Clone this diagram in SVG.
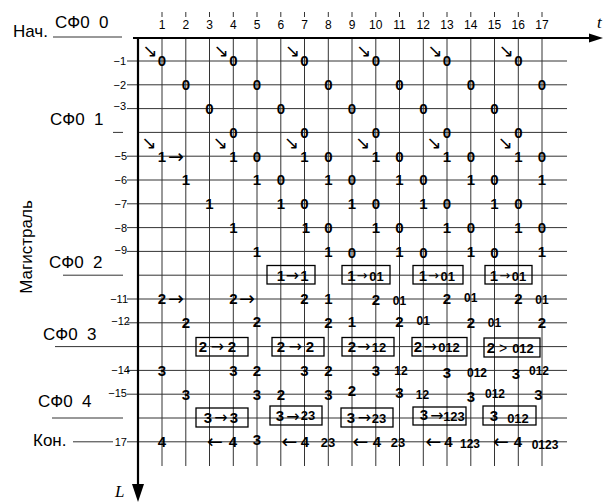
<svg xmlns="http://www.w3.org/2000/svg" width="603" height="502" viewBox="0 0 603 502">
<style>
.g{stroke:#333;stroke-width:1;fill:none}
.ax{stroke:#000;stroke-width:2.2;fill:none}
.bx{stroke:#000;stroke-width:1.3;fill:none}
text{font-family:"Liberation Sans",Arial,sans-serif;fill:#000}
.d{font-size:15px;font-weight:bold;text-anchor:middle}
.m{font-size:13px;font-weight:bold;text-anchor:middle}
.s{font-size:12px;font-weight:bold;text-anchor:middle}
.a{font-family:"DejaVu Sans",sans-serif;font-size:16px;text-anchor:middle}
.b{font-family:"DejaVu Sans",sans-serif;font-size:13px;text-anchor:middle}
.A{font-family:"DejaVu Sans",sans-serif;font-size:19px;text-anchor:middle}
.D{font-family:"DejaVu Sans",sans-serif;font-size:18px;text-anchor:middle}
.c{font-size:12px;text-anchor:middle}
.r{font-size:11px;text-anchor:end}
.L{font-size:17px}
</style>

<g id="grid">
<path class="g" d="M127 61H567M127 84.8H567M127 108.6H567M138 132.4H567M127 156.2H567M127 180H567M127 203.8H567M127 227.6H567M127 251.4H567M138 275.2H567M127 299H567M127 322.8H567M55 346.6H567M127 370.4H567M127 394.2H567M138 418H567M127 441.8H567"/>
<path class="g" d="M162 38V466M185.8 38V466M209.5 38V466M233.3 38V466M257 38V466M280.8 38V466M304.5 38V466M328.3 38V466M352 38V466M375.8 38V466M399.5 38V466M423.3 38V466M447 38V466M470.8 38V466M494.5 38V466M518.3 38V466M542 38V466"/>
<path class="g" d="M162 12V17M185.8 12V17M209.5 12V17M233.3 12V17M257 12V17M280.8 12V17M304.5 12V17M328.3 12V17M352 12V17M375.8 12V17M399.5 12V17M423.3 12V17M447 12V17M470.8 12V17M494.5 12V17M518.3 12V17M542 12V17"/>
<path class="g" d="M113 132.4H123M63 275.2H123M52 418H123M73 441.8H113M53 37H122"/>
</g>

<g id="axes">
<path class="ax" d="M133 38H592M138 37V486"/>
<polygon points="589,33.5 603,38 589,42.5" fill="#000"/>
<polygon points="132,484 144,484 138,502" fill="#000"/>
<text x="597" y="28" style="font-family:'Liberation Serif',serif;font-style:italic;font-size:17px">t</text>
<text x="115" y="497" style="font-family:'Liberation Serif',serif;font-style:italic;font-size:17px">L</text>
</g>

<g id="col-labels">
<text class="c" x="162" y="29">1</text><text class="c" x="185.8" y="29">2</text><text class="c" x="209.5" y="29">3</text><text class="c" x="233.3" y="29">4</text><text class="c" x="257" y="29">5</text><text class="c" x="280.8" y="29">6</text><text class="c" x="304.5" y="29">7</text><text class="c" x="328.3" y="29">8</text><text class="c" x="352" y="29">9</text><text class="c" x="375.8" y="29">10</text><text class="c" x="399.5" y="29">11</text><text class="c" x="423.3" y="29">12</text><text class="c" x="447" y="29">13</text><text class="c" x="470.8" y="29">14</text><text class="c" x="494.5" y="29">15</text><text class="c" x="518.3" y="29">16</text><text class="c" x="542" y="29">17</text>
</g>

<g id="row-labels">
<text class="r" x="126" y="65">−1</text>
<text class="r" x="126" y="88.8">−2</text>
<text class="r" x="126" y="110">−3</text>
<text class="r" x="127" y="160.2">−5</text>
<text class="r" x="127" y="184">−6</text>
<text class="r" x="127" y="207.8">−7</text>
<text class="r" x="127" y="231.6">−8</text>
<text class="r" x="127" y="253.5">−9</text>
<text class="r" x="128" y="303">−11</text>
<text class="r" x="130" y="325">−12</text>
<text class="r" x="130" y="374.4">−14</text>
<text class="r" x="127" y="396.5">−15</text>
<text class="r" x="127" y="445.8">17</text>
</g>

<g id="stage-labels">
<text x="13" y="37" class="L">Нач.</text>
<text x="55" y="28" class="L" xml:space="preserve">СФ0  0</text>
<text x="50" y="125" class="L" xml:space="preserve">СФ0  1</text>
<text x="49" y="268" class="L" xml:space="preserve">СФ0  2</text>
<text x="43" y="340" class="L" xml:space="preserve">СФ0  3</text>
<text x="38" y="407" class="L" xml:space="preserve">СФ0  4</text>
<text x="33" y="446" class="L">Кон.</text>
<text transform="translate(32 247) rotate(-90)" style="font-size:17px;text-anchor:middle">Магистраль</text>
</g>

<g id="cells">
<!-- row 1 -->
<text class="d" x="162" y="66.3">0</text><text class="d" x="233.3" y="66.3">0</text><text class="d" x="304.5" y="66.3">0</text><text class="d" x="375.8" y="66.3">0</text><text class="d" x="447" y="66.3">0</text><text class="d" x="518.3" y="66.3">0</text>
<text class="D" x="150" y="57">↘</text><text class="D" x="221.3" y="57">↘</text><text class="D" x="292.5" y="57">↘</text><text class="D" x="363.8" y="57">↘</text><text class="D" x="435" y="57">↘</text><text class="D" x="506.3" y="57">↘</text>
<!-- row 2 -->
<text class="d" x="185.8" y="90.1">0</text><text class="d" x="257" y="90.1">0</text><text class="d" x="328.3" y="90.1">0</text><text class="d" x="399.5" y="90.1">0</text><text class="d" x="470.8" y="90.1">0</text><text class="d" x="542" y="90.1">0</text>
<!-- row 3 -->
<text class="d" x="209.5" y="113.9">0</text><text class="d" x="280.8" y="113.9">0</text><text class="d" x="352" y="113.9">0</text><text class="d" x="423.3" y="113.9">0</text><text class="d" x="494.5" y="113.9">0</text>
<!-- row 4 -->
<text class="d" x="233.3" y="137.7">0</text><text class="d" x="304.5" y="137.7">0</text><text class="d" x="375.8" y="137.7">0</text><text class="d" x="447" y="137.7">0</text><text class="d" x="518.3" y="137.7">0</text>
<text class="D" x="149" y="149">↘</text><text class="D" x="220.3" y="149">↘</text><text class="D" x="291.5" y="149">↘</text><text class="D" x="362.8" y="149">↘</text><text class="D" x="434" y="149">↘</text><text class="D" x="505.3" y="149">↘</text>
<!-- row 5 -->
<text class="d" x="162" y="161.5">1</text><text class="A" x="176" y="162.5">→</text>
<text class="d" x="233.3" y="161.5">1</text><text class="d" x="257" y="161.5">0</text><text class="d" x="304.5" y="161.5">1</text><text class="d" x="328.3" y="161.5">0</text><text class="d" x="375.8" y="161.5">1</text><text class="d" x="399.5" y="161.5">0</text><text class="d" x="447" y="161.5">1</text><text class="d" x="470.8" y="161.5">0</text><text class="d" x="518.3" y="161.5">1</text><text class="d" x="542" y="161.5">0</text>
<!-- row 6 -->
<text class="d" x="185.8" y="185.3">1</text><text class="d" x="257" y="185.3">1</text><text class="d" x="280.8" y="185.3">0</text><text class="d" x="328.3" y="185.3">1</text><text class="d" x="352" y="185.3">0</text><text class="d" x="399.5" y="185.3">1</text><text class="d" x="423.3" y="185.3">0</text><text class="d" x="470.8" y="185.3">1</text><text class="d" x="494.5" y="185.3">0</text><text class="d" x="542" y="185.3">1</text>
<!-- row 7 -->
<text class="d" x="209.5" y="209.1">1</text><text class="d" x="280.8" y="209.1">1</text><text class="d" x="304.5" y="209.1">0</text><text class="d" x="352" y="209.1">1</text><text class="d" x="375.8" y="209.1">0</text><text class="d" x="423.3" y="209.1">1</text><text class="d" x="447" y="209.1">0</text><text class="d" x="494.5" y="209.1">1</text><text class="d" x="518.3" y="209.1">0</text>
<!-- row 8 -->
<text class="d" x="233.3" y="232.9">1</text><text class="d" x="306" y="232.9">1</text><text class="d" x="328.3" y="232.9">0</text><text class="d" x="375.8" y="232.9">1</text><text class="d" x="399.5" y="232.9">0</text><text class="d" x="447" y="232.9">1</text><text class="d" x="470.8" y="232.9">0</text><text class="d" x="518.3" y="232.9">1</text><text class="d" x="542" y="232.9">0</text>
<!-- row 9 -->
<text class="d" x="257" y="256.7">1</text><text class="d" x="328.3" y="256.7">1</text><text class="d" x="352" y="257.5">0</text><text class="d" x="399.5" y="256.7">1</text><text class="d" x="423.3" y="257.5">0</text><text class="d" x="470.8" y="256.7">1</text><text class="d" x="494.5" y="257.5">0</text><text class="d" x="542" y="256.7">1</text>
<!-- row 11 -->
<text class="d" x="162" y="304.3">2</text><text class="A" x="176" y="305.3">→</text>
<text class="d" x="233.3" y="304.3">2</text><text class="A" x="247" y="305.3">→</text>
<text class="d" x="304.5" y="304.3">2</text><text class="d" x="328.3" y="304.3">1</text><text class="d" x="375.8" y="305">2</text><text class="s" x="399.5" y="305">01</text><text class="d" x="447" y="304.3">2</text><text class="s" x="470.8" y="302">01</text><text class="d" x="518.3" y="304.3">2</text><text class="s" x="542" y="303.5">01</text>
<!-- row 12 -->
<text class="d" x="185.8" y="328.1">2</text><text class="d" x="257" y="327">2</text><text class="d" x="328.3" y="328.1">2</text><text class="d" x="352" y="326.5">1</text><text class="d" x="399.5" y="326.5">2</text><text class="s" x="423.3" y="325">01</text><text class="d" x="470.8" y="328.1">2</text><text class="s" x="494.5" y="327">01</text><text class="d" x="542" y="328.1">2</text>
<!-- row 14 -->
<text class="d" x="162" y="375.7">3</text><text class="d" x="233.3" y="375.7">3</text><text class="d" x="257" y="375.7">2</text><text class="d" x="304.5" y="375.7">3</text><text class="d" x="328.3" y="375.7">2</text><text class="d" x="375.8" y="375.7">3</text><text class="s" x="401" y="375">12</text><text class="d" x="447" y="377.5">3</text><text class="s" x="477" y="377">012</text><text class="d" x="516" y="379">3</text><text class="s" x="539" y="374.5">012</text>
<!-- row 15 -->
<text class="d" x="185.8" y="399.5">3</text><text class="d" x="257" y="399.5">3</text><text class="d" x="280.8" y="399.5">2</text><text class="d" x="328.3" y="399.5">3</text><text class="d" x="352" y="395.5">2</text><text class="d" x="399.5" y="398">3</text><text class="s" x="422.5" y="398.5">12</text><text class="d" x="471" y="401.5">3</text><text class="s" x="495" y="397.5">012</text><text class="d" x="538.5" y="400">3</text>
<!-- row 17 -->
<text class="d" x="162" y="447.1">4</text>
<text class="A" x="215" y="448">←</text><text class="d" x="233" y="447.1">4</text>
<text class="d" x="257" y="445">3</text>
<text class="A" x="289.5" y="448">←</text><text class="d" x="305" y="447.1">4</text><text class="m" x="328" y="447">23</text>
<text class="A" x="360.5" y="448">←</text><text class="d" x="377" y="447.1">4</text><text class="m" x="398" y="447">23</text>
<text class="A" x="433.5" y="448">←</text><text class="d" x="448.5" y="447.1">4</text><text class="s" x="470" y="448">123</text>
<text class="A" x="501" y="448">←</text><text class="d" x="518" y="447.1">4</text><text class="s" x="545" y="449">0123</text>
</g>

<g id="boxes">
<rect class="bx" x="267" y="265.5" width="48" height="18.5"/>
<rect class="bx" x="342" y="265.5" width="48" height="18.5"/>
<rect class="bx" x="413" y="265.5" width="50" height="18.5"/>
<rect class="bx" x="485" y="265.5" width="47" height="18.5"/>
<text class="d" x="280.8" y="280.5">1</text><text class="a" x="292.5" y="280.5">→</text><text class="d" x="304.5" y="280.5">1</text>
<text class="d" x="351.5" y="280.5">1</text><text class="b" x="362" y="279.5">→</text><text class="m" x="376.5" y="280.5">01</text>
<text class="d" x="422.8" y="280.5">1</text><text class="b" x="433.4" y="279.5">→</text><text class="m" x="447.8" y="280.5">01</text>
<text class="d" x="494" y="280.5">1</text><text class="b" x="504.6" y="279.5">→</text><text class="m" x="519" y="280.5">01</text>

<rect class="bx" x="196" y="337.5" width="52" height="18.5"/>
<rect class="bx" x="272" y="337.5" width="52" height="18.5"/>
<rect class="bx" x="342" y="337.5" width="52" height="18.5"/>
<rect class="bx" x="412" y="337.5" width="55" height="18.5"/>
<rect class="bx" x="484" y="338" width="56" height="19"/>
<text class="d" x="203" y="352">2</text><text class="a" x="217.5" y="352">→</text><text class="d" x="232" y="352">2</text>
<text class="d" x="281" y="352">2</text><text class="a" x="295.5" y="352">→</text><text class="d" x="310" y="352">2</text>
<text class="d" x="352" y="352">2</text><text class="a" x="364" y="352">→</text><text class="m" x="379" y="352">12</text>
<text class="d" x="418" y="352">2</text><text class="a" x="430.5" y="352">→</text><text class="m" x="449" y="352">012</text>
<text class="d" x="491" y="353">2</text><text x="503" y="352.5" style="font-size:14px;text-anchor:middle">&gt;</text><text class="m" x="523" y="353">012</text>

<rect class="bx" x="196" y="408" width="52" height="19"/>
<rect class="bx" x="270" y="406" width="52" height="19"/>
<rect class="bx" x="341" y="408" width="52" height="19"/>
<rect class="bx" x="413" y="407" width="53" height="18"/>
<rect class="bx" x="483" y="406" width="53" height="19"/>
<text class="d" x="208" y="423">3</text><text class="a" x="221" y="423">→</text><text class="d" x="234" y="423">3</text>
<text class="d" x="280" y="421">3</text><text class="a" x="293" y="421.5">→</text><text class="m" x="308" y="419.5">23</text>
<text class="d" x="351" y="423">3</text><text class="a" x="364.5" y="423">→</text><text class="m" x="379" y="423">23</text>
<text class="d" x="424" y="420">3</text><text class="a" x="437" y="420.5">→</text><text class="m" x="454" y="421">123</text>
<text class="d" x="494" y="420.5">3</text><text class="m" x="518" y="423">012</text>
</g>
</svg>
